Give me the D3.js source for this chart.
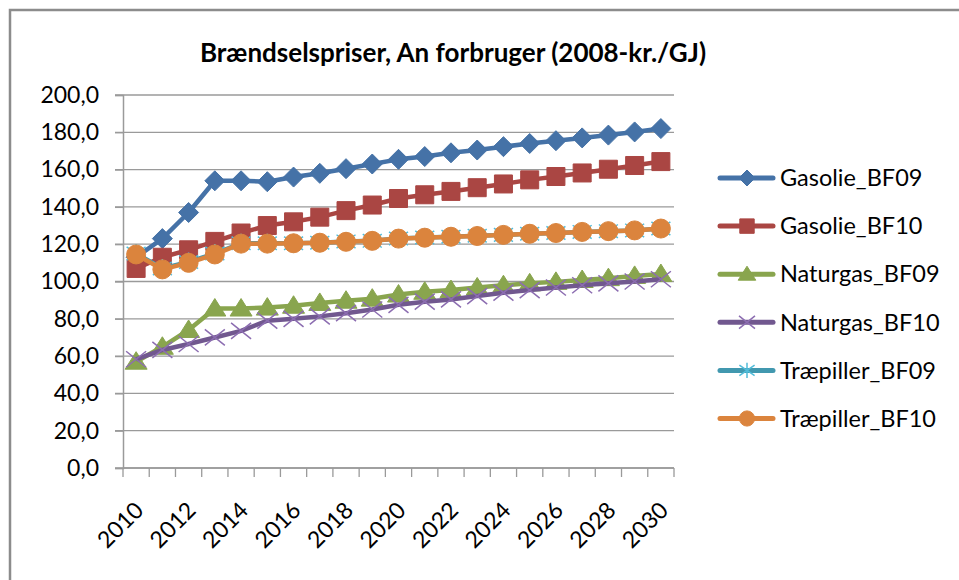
<!DOCTYPE html>
<html>
<head>
<meta charset="utf-8">
<script src="https://cdn.jsdelivr.net/npm/d3@7"></script>
<style>
  body { margin: 0; background: #fff; }
  text { font-family: Lato, 'Open Sans', sans-serif; fill: #000; }
</style>
</head>
<body>
<svg width="959" height="580"></svg>
<script>
let years = d3.range(2010, 2031);
let yTicks = d3.range(0, 201, 20);
let seriesNames = ['Gasolie_BF09', 'Gasolie_BF10', 'Naturgas_BF09', 'Naturgas_BF10', 'Træpiller_BF09', 'Træpiller_BF10'];

let gasolieBF09 = [113, 123, 137, 154, 154, 153.5, 156, 158, 160.5, 163, 165.5, 167, 169, 170.5, 172.3, 174, 175.5, 177, 178.5, 180.2, 182];
let gasolieBF10 = [107, 113, 117, 121.5, 126, 130, 132, 134.5, 138, 141, 144.5, 146.5, 148.3, 150.3, 152.3, 154.5, 156.3, 158.2, 160.2, 162.2, 164.3];
let naturgasBF09 = [57, 65, 74, 85.5, 85.5, 86, 87, 88.5, 89.7, 90.8, 93, 94.5, 95.4, 96.8, 98, 99, 99.8, 100.8, 101.8, 103, 104];
let naturgasBF10 = [58.3, 63.3, 66.5, 70, 73.5, 79, 80, 81.3, 83, 85, 87.5, 89.2, 90.4, 92.2, 94, 95.4, 96.8, 98, 99, 100, 101.2];
let traepillerBF09 = [115, 107, 110.5, 115, 120.5, 120.5, 120.5, 120.8, 121.5, 121.8, 123, 123.6, 124, 124.5, 125, 125.6, 126, 126.6, 127, 127.4, 128.4];
let traepillerBF10 = [114.5, 106.5, 110, 114.5, 120.3, 120.3, 120.5, 120.8, 121.3, 121.8, 123, 123.5, 124, 124.4, 125, 125.6, 126, 126.6, 127, 127.4, 128.4];

let seriesValues = [gasolieBF09, gasolieBF10, naturgasBF09, naturgasBF10, traepillerBF09, traepillerBF10];
let colors = ['#4572a7', '#aa4643', '#89a54e', '#71588f', '#4198af', '#db843d'];

// Excel-like marker shapes, size = half width
let diamond = { draw(c, r) { c.moveTo(0, -r); c.lineTo(r, 0); c.lineTo(0, r); c.lineTo(-r, 0); c.closePath(); } };
let square = { draw(c, r) { c.rect(-r, -r, 2 * r, 2 * r); } };
let triangle = { draw(c, r) { c.moveTo(0, -r); c.lineTo(r * 1.1, r * 0.75); c.lineTo(-r * 1.1, r * 0.75); c.closePath(); } };
let cross = { draw(c, r) { c.moveTo(-r, -r * 0.8); c.lineTo(r, r * 0.8); c.moveTo(-r, r * 0.8); c.lineTo(r, -r * 0.8); } };
let star = { draw(c, r) { c.moveTo(-r, -r * 0.7); c.lineTo(r, r * 0.7); c.moveTo(-r, r * 0.7); c.lineTo(r, -r * 0.7); c.moveTo(0, -r); c.lineTo(0, r); } };
let circle = { draw(c, r) { c.moveTo(r, 0); c.arc(0, 0, r, 0, 2 * Math.PI); } };

let markers = [
  { type: diamond, size: 10, filled: true },
  { type: square, size: 9, filled: true },
  { type: triangle, size: 10, filled: true },
  { type: cross, size: 10, filled: false },
  { type: star, size: 9.5, filled: false },
  { type: circle, size: 9.5, filled: true }
];

let series = seriesNames.map((name, i) => ({
  name: name,
  color: colors[i],
  marker: markers[i],
  values: seriesValues[i].map((v, j) => ({ year: years[j], value: v }))
}));

let svg = d3.select('svg');

svg.append('rect')
  .attr('x', 10).attr('y', 10)
  .attr('width', 980).attr('height', 600)
  .attr('fill', '#fff')
  .attr('stroke', '#8c8c8c')
  .attr('stroke-width', 2.5);

let x = d3.scaleBand().domain(years).range([123, 674]);
let y = d3.scaleLinear().domain([0, 200]).range([468, 95]);
let cx = d => x(d) + x.bandwidth() / 2;

let fmt = d => d3.format('.1f')(d).replace('.', ',');

// gridlines
svg.append('g')
  .selectAll('line')
  .data(yTicks)
  .join('line')
  .attr('x1', 115).attr('x2', 674)
  .attr('y1', d => y(d)).attr('y2', d => y(d))
  .attr('stroke', '#9a9a9a')
  .attr('stroke-width', 1.3);

let yAxis = svg.append('g')
  .attr('transform', 'translate(123,0)')
  .call(d3.axisLeft(y).tickValues(yTicks).tickFormat(fmt).tickSize(8).tickPadding(16));
yAxis.select('.domain').attr('stroke', '#9a9a9a').attr('stroke-width', 1.5);
yAxis.selectAll('.tick line').attr('stroke', '#9a9a9a').attr('stroke-width', 1.3);
yAxis.selectAll('.tick text').attr('font-size', 23).attr('font-family', 'Lato').attr('fill', '#000');

// x axis with ticks between categories
let xAxis = svg.append('g');
xAxis.append('line')
  .attr('x1', 123).attr('x2', 674)
  .attr('y1', 468).attr('y2', 468)
  .attr('stroke', '#9a9a9a').attr('stroke-width', 1.5);
xAxis.selectAll('.xtick')
  .data(years.map(d => x(d)).concat([674]))
  .join('line')
  .attr('class', 'xtick')
  .attr('x1', d => d).attr('x2', d => d)
  .attr('y1', 468).attr('y2', 477)
  .attr('stroke', '#9a9a9a').attr('stroke-width', 1.3);
xAxis.selectAll('.xlabel')
  .data(years.filter(d => d % 2 === 0))
  .join('text')
  .attr('class', 'xlabel')
  .attr('transform', d => `translate(${cx(d) + 3},${506}) rotate(-45)`)
  .attr('text-anchor', 'end')
  .attr('dy', '0.35em')
  .attr('font-size', 23)
  .text(d => d);

// lines + markers
let line = d3.line()
  .x(d => cx(d.year))
  .y(d => y(d.value));

let g = svg.append('g').selectAll('g')
  .data(series)
  .join('g');

g.append('path')
  .attr('d', d => line(d.values))
  .attr('fill', 'none')
  .attr('stroke', d => d.color)
  .attr('stroke-width', 4.5)
  .attr('stroke-linejoin', 'round');

g.selectAll('path.mark')
  .data(d => d.values.map(v => ({ v: v, s: d })))
  .join('path')
  .attr('class', 'mark')
  .attr('transform', d => `translate(${cx(d.v.year)},${y(d.v.value)})`)
  .attr('d', d => d3.symbol(d.s.marker.type, d.s.marker.size)())
  .attr('fill', d => d.s.marker.filled ? d.s.color : 'none')
  .attr('stroke', d => d.s.marker.filled ? d.s.color : d3.color(d.s.color).brighter(0.6))
  .attr('stroke-width', d => d.s.marker.filled ? 1 : 1.5);

// title
svg.append('text')
  .attr('x', 453).attr('y', 62)
  .attr('text-anchor', 'middle')
  .attr('font-size', 26)
  .attr('font-weight', 'bold')
  .text('Brændselspriser, An forbruger (2008-kr./GJ)');

// legend
let legend = svg.append('g').selectAll('g')
  .data(series)
  .join('g')
  .attr('transform', (d, i) => `translate(720,${178 + i * 48.1})`);

legend.append('line')
  .attr('x1', 0).attr('x2', 53)
  .attr('stroke', d => d.color)
  .attr('stroke-width', 5)
  .attr('stroke-linecap', 'round');

legend.append('path')
  .attr('transform', 'translate(27,0)')
  .attr('d', d => d3.symbol(d.marker.type, d.marker.size * 0.8)())
  .attr('fill', d => d.marker.filled ? d.color : 'none')
  .attr('stroke', d => d.marker.filled ? d.color : d3.color(d.color).brighter(0.6))
  .attr('stroke-width', d => d.marker.filled ? 1 : 1.5);

legend.append('text')
  .attr('x', 60)
  .attr('dy', '0.35em')
  .attr('font-size', 23.5)
  .text(d => d.name);
</script>
</body>
</html>
